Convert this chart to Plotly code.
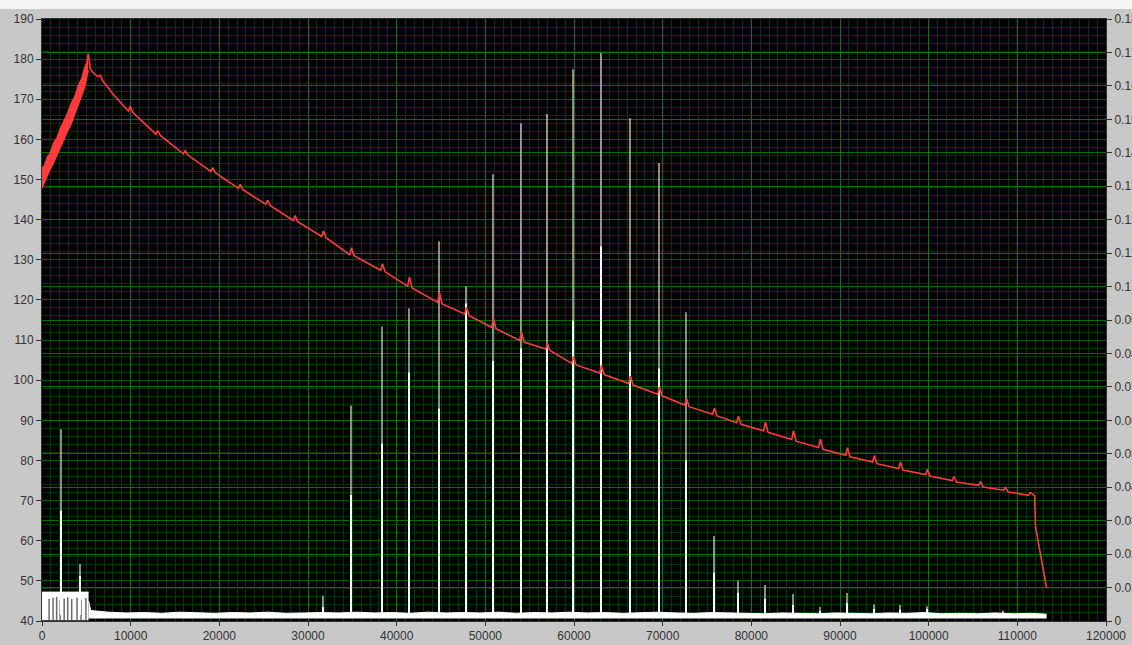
import plotly.graph_objects as go

# Temperature during heat-up (left axis): envelope of the fast-oscillating samples
band_x = [0, 300, 600, 900, 1300, 1700, 2100, 2500, 2900, 3300, 3700, 4100,
          4500, 4800, 5050, 5220]
band_hi = [152.8, 153.5, 155.6, 156.4, 159.0, 160.4, 162.8, 164.6, 166.5, 169.0,
           170.6, 173.4, 175.2, 177.8, 179.0, 181.4]
band_lo = [147.9, 149.6, 150.8, 152.6, 154.2, 156.3, 158.0, 160.4, 162.2, 164.0,
           166.4, 168.5, 171.0, 173.0, 175.6, 177.2]

# Cool-down trace after the peak
red_x = [5220, 5450, 5700, 6300, 6550, 6850, 8000, 9000,
         9750, 9950, 10250, 12850, 13050, 13350, 15950, 16150, 16450,
         19050, 19250, 19550, 22150, 22350, 22650, 25250, 25450, 25750,
         28350, 28550, 28850, 31540, 31740, 32040, 34700, 34900, 35200,
         38195, 38395, 38695, 41240, 41440, 41740, 44625, 44825, 45125,
         47670, 47870, 48170, 50710, 50910, 51210, 53870, 54070, 54370,
         56800, 57000, 57300, 59740, 59940, 60240, 62895, 63095, 63395,
         66165, 66365, 66665, 69435, 69635, 69935, 72480, 72680, 72980,
         75640, 75840, 76140, 78345, 78545, 78845, 81390, 81590, 81890,
         84550, 84750, 85050, 87590, 87790, 88090, 90640, 90840, 91140,
         93680, 93880, 94180, 96615, 96815, 97115, 99660, 99860, 100160,
         102650, 102850, 103150, 105650, 105850, 106150, 108450, 108650, 108950,
         111250, 111450, 111750, 111950, 112050, 112250, 112600, 113000, 113300]
red_y = [181.4, 177.6, 176.8, 175.6, 176.0, 174.6, 171.3, 168.8,
         167.0, 168.3, 166.7, 161.3, 162.2, 161.0, 156.4, 157.2, 156.1,
         152.0, 153.0, 151.7, 147.8, 148.8, 147.5, 143.8, 144.9, 143.5,
         139.8, 141.0, 139.5, 135.8, 137.2, 135.5, 131.3, 133.0, 131.0,
         127.4, 129.0, 127.0, 123.4, 125.7, 123.0, 119.4, 121.8, 119.0,
         116.5, 118.2, 116.1, 113.2, 115.3, 112.8, 109.9, 112.1, 109.5,
         107.8, 109.2, 107.4, 104.2, 105.9, 103.8, 101.8, 103.6, 101.4,
         99.2, 101.0, 98.8, 96.5, 98.3, 96.1, 93.8, 95.5, 93.4,
         91.5, 93.0, 91.1, 89.4, 91.0, 89.0, 87.4, 89.6, 87.0,
         85.2, 87.4, 84.8, 83.2, 85.3, 82.8, 81.3, 83.2, 80.9,
         79.6, 81.2, 79.2, 78.0, 79.6, 77.6, 76.5, 77.8, 76.1,
         75.0, 76.0, 74.6, 73.8, 74.8, 73.4, 72.6, 73.4, 72.2,
         71.3, 72.0, 71.6, 71.2, 63.5, 61.0, 56.5, 51.5, 48.2]

# Signal peaks (left axis): position, peak level, level of the adjacent sample
spike_x = [2143, 4286, 31690, 34850, 38345, 41390, 44775, 47820, 50860, 54020,
           56950, 59890, 63045, 66315, 69585, 72630, 75790, 78495, 81540, 84700,
           87740, 90790, 93830, 96765, 99810, 108380]
spike_peak = [87.8, 54.2, 46.3, 93.7, 113.4, 117.9, 134.6, 123.4, 151.3, 164.0,
              166.3, 177.5, 181.5, 165.3, 154.1, 116.9, 61.2, 50.0, 49.0, 46.7,
              43.5, 47.0, 44.2, 44.0, 43.7, 42.6]
spike_second = [67.5, 51.2, 43.5, 71.4, 84.2, 101.9, 92.9, 119.1, 104.8, 107.9,
                108.1, 114.9, 133.3, 107.1, 102.9, 80.0, 52.0, 47.0, 45.5, 44.0,
                42.5, 44.5, 43.0, 42.8, 43.0, 42.2]

# Signal noise floor
block_x = [0, 5250]
block_top = [47.2, 47.2]
block_gap_x = [800, 1250, 1650, 2050, 2500, 2900, 3350, 3950, 4400, 4950]
block_gap_top = [45.5, 45.8, 46.0, 45.2, 45.6, 45.9, 45.5, 45.8, 45.3, 45.7]
floor_x = [5250, 5500, 7500, 9500, 11500, 13500, 15500, 17500, 19500, 21500,
           23500, 25500, 27500, 29500, 31500, 33500, 35500, 37500, 39500, 41500,
           43500, 45500, 47500, 49500, 51500, 53500, 55500, 57500, 59500, 61500,
           63500, 65500, 67500, 69500, 71500, 73500, 75500, 77500, 79500, 81500,
           83500, 85500, 87500, 89500, 91500, 93500, 95500, 97500, 99500, 101500,
           103500, 105500, 107500, 109500, 111500, 113300]
floor_top = [45.0, 42.6, 42.2, 42.0, 42.1, 41.9, 42.2, 42.0, 41.9, 42.1,
             42.0, 42.2, 41.9, 42.0, 42.1, 42.0, 42.2, 42.0, 42.1, 41.9,
             42.2, 42.0, 42.1, 42.0, 42.2, 41.9, 42.1, 42.0, 42.2, 42.0,
             42.1, 41.9, 42.0, 42.2, 42.0, 41.9, 42.1, 42.0, 42.0, 41.8,
             42.0, 41.9, 41.8, 42.0, 41.9, 41.8, 42.0, 41.9, 42.1, 41.8,
             41.9, 41.8, 42.0, 41.8, 41.9, 41.7]

x_ticks = [0, 10000, 20000, 30000, 40000, 50000, 60000, 70000, 80000, 90000,
           100000, 110000, 120000]
left_ticks = [40, 50, 60, 70, 80, 90, 100, 110, 120, 130, 140, 150, 160, 170, 180, 190]
right_ticks = [0, 0.01, 0.02, 0.03, 0.04, 0.05, 0.06, 0.07, 0.08, 0.09, 0.1,
               0.11, 0.12, 0.13, 0.14, 0.15, 0.16, 0.17, 0.18]
right_labels = ["0", "0.01", "0.02", "0.03", "0.04", "0.05", "0.06", "0.07", "0.08",
                "0.09", "0.1", "0.11", "0.12", "0.13", "0.14", "0.15", "0.16", "0.17", "0.18"]

BASE = 40.6
RED = "#ff3b3b"

fig = go.Figure()

# noise floor after heat-up
fig.add_trace(go.Scatter(x=floor_x, y=[BASE] * len(floor_x), mode="lines",
                         line=dict(width=0, color="white"), hoverinfo="skip"))
fig.add_trace(go.Scatter(x=floor_x, y=floor_top, mode="lines", fill="tonexty",
                         fillcolor="white", line=dict(width=1, color="white"),
                         hoverinfo="skip"))
# dense block during heat-up
fig.add_trace(go.Scatter(x=block_x, y=[40.2, 40.2], mode="lines",
                         line=dict(width=0, color="white"), hoverinfo="skip"))
fig.add_trace(go.Scatter(x=block_x, y=block_top, mode="lines", fill="tonexty",
                         fillcolor="white", line=dict(width=1, color="white"),
                         hoverinfo="skip"))
gx, gy = [], []
for x, t in zip(block_gap_x, block_gap_top):
    gx += [x, x, None]
    gy += [40.2, t, None]
fig.add_trace(go.Scatter(x=gx, y=gy, mode="lines",
                         line=dict(width=1.5, color="rgba(90,90,90,0.9)"), hoverinfo="skip"))

# peaks: lighter full-height stroke plus bright lower stroke
px, py, sx, sy = [], [], [], []
for x, p, s in zip(spike_x, spike_peak, spike_second):
    px += [x, x, None]
    py += [41.5, p, None]
    sx += [x, x, None]
    sy += [41.5, s, None]
fig.add_trace(go.Scatter(x=px, y=py, mode="lines",
                         line=dict(width=1.3, color="rgba(225,225,225,0.95)"), hoverinfo="skip"))
fig.add_trace(go.Scatter(x=sx, y=sy, mode="lines",
                         line=dict(width=2, color="white"), hoverinfo="skip"))

# temperature
fig.add_trace(go.Scatter(x=band_x, y=band_lo, mode="lines",
                         line=dict(width=1.5, color=RED), hoverinfo="skip"))
fig.add_trace(go.Scatter(x=band_x, y=band_hi, mode="lines", fill="tonexty",
                         fillcolor=RED, line=dict(width=1.5, color=RED), hoverinfo="skip"))
fig.add_trace(go.Scatter(x=red_x, y=red_y, mode="lines",
                         line=dict(width=1.6, color=RED), hoverinfo="skip"))

# right-hand axis carrier
fig.add_trace(go.Scatter(x=[0], y=[0], yaxis="y2", mode="markers",
                         marker=dict(size=1, color="rgba(0,0,0,0)"), hoverinfo="skip"))

tickfont = dict(family="Liberation Sans", size=12, color="#333333")

fig.update_layout(
    width=1132, height=645,
    margin=dict(l=42, r=26, t=19, b=24),
    paper_bgcolor="#c8c8c8",
    plot_bgcolor="black",
    showlegend=False,
    xaxis=dict(range=[0, 120000], tickvals=x_ticks, ticktext=[str(v) for v in x_ticks],
               ticks="outside", ticklen=4, tickcolor="#333333",
               showgrid=True, gridcolor="#007c00", gridwidth=1,
               minor=dict(dtick=1000, tick0=0, showgrid=True, gridcolor="#003a00",
                          gridwidth=1, ticks=""),
               showline=True, linecolor="#303030", mirror=True,
               zeroline=False, tickfont=tickfont, automargin=False),
    yaxis=dict(range=[40, 190], tickvals=left_ticks, ticks="outside", ticklen=5,
               tickcolor="#333333", showgrid=True, gridcolor="#005800", gridwidth=1,
               minor=dict(dtick=2, tick0=40, showgrid=True, gridcolor="#003200",
                          gridwidth=1, ticks=""),
               showline=True, linecolor="#303030", mirror=True,
               zeroline=False, tickfont=tickfont, automargin=False),
    yaxis2=dict(range=[0, 0.18], overlaying="y", side="right",
                tickvals=right_ticks, ticktext=right_labels,
                ticks="outside", ticklen=5, tickcolor="#333333",
                showgrid=True, gridcolor="#007000", gridwidth=1,
                zeroline=False, tickfont=tickfont, automargin=False),
    shapes=[dict(type="rect", xref="paper", yref="paper", x0=-0.05, x1=1.05,
                 y0=1 + 10 / 602, y1=1 + 20 / 602, fillcolor="#f4f4f4",
                 line=dict(width=0), layer="below")],
)

fig.write_html("out.html")
